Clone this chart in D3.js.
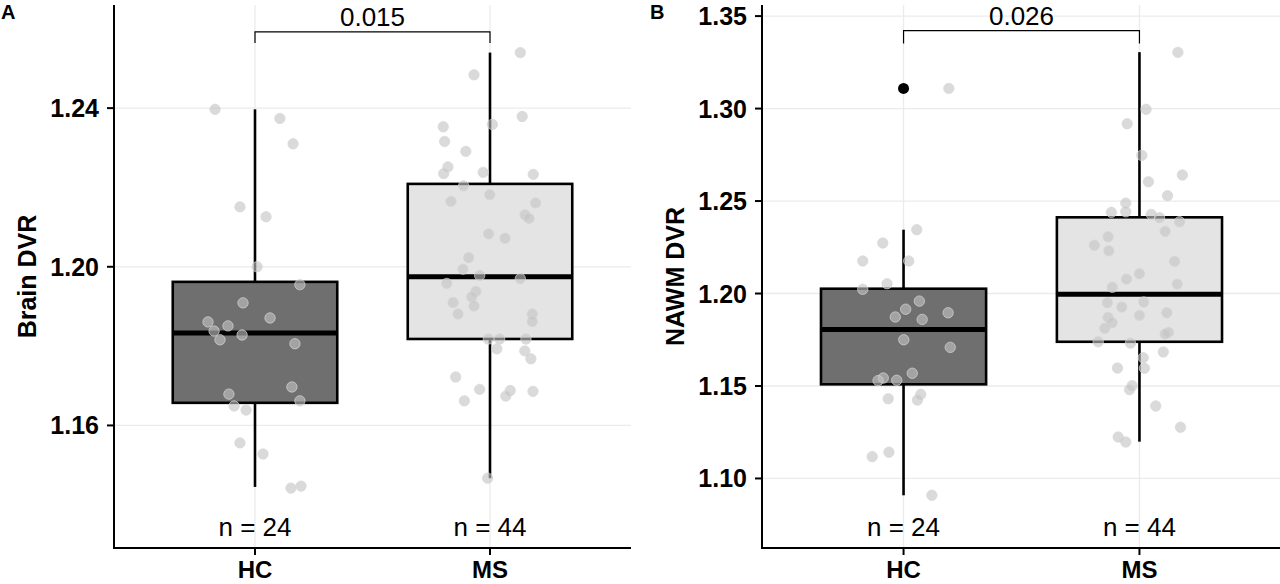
<!DOCTYPE html>
<html>
<head>
<meta charset="utf-8">
<script src="https://cdn.jsdelivr.net/npm/d3@7"></script>
<style>
  body { margin: 0; background: #fff; }
  svg { display: block; font-family: "Liberation Sans", Arial, sans-serif; }
</style>
</head>
<body>
<svg width="1280" height="584"></svg>
<script>
// groups and counts
var groups = ["HC", "MS"];
var counts = [24, 44];

// panel A: Brain DVR
var brainHC = [1.2397, 1.2374, 1.2310, 1.2151, 1.2126, 1.2000, 1.1955, 1.1909, 1.1871, 1.1861, 1.1851, 1.1838,
  1.1828, 1.1816, 1.1806, 1.1697, 1.1679, 1.1662, 1.1649, 1.1639, 1.1556, 1.1528, 1.1447, 1.1442];
var brainHCJitter = [-0.170, 0.106, 0.162, -0.064, 0.047, 0.009, 0.191, -0.051, 0.064, -0.200, -0.115, -0.174,
  -0.055, -0.149, 0.170, 0.157, -0.111, 0.191, -0.089, -0.038, -0.064, 0.034, 0.196, 0.153];
var brainMS = [1.2540, 1.2484, 1.2379, 1.2359, 1.2353, 1.2316, 1.2291, 1.2252, 1.2238, 1.2235, 1.2233, 1.2204,
  1.2182, 1.2165, 1.2161, 1.2131, 1.2122, 1.2083, 1.2072, 1.2023, 1.1994, 1.1978, 1.1970, 1.1958,
  1.1938, 1.1924, 1.1910, 1.1901, 1.1881, 1.1881, 1.1862, 1.1818, 1.1818, 1.1818, 1.1793, 1.1788,
  1.1768, 1.1722, 1.1691, 1.1688, 1.1686, 1.1674, 1.1662, 1.1467];
var brainMSJitter = [0.129, -0.068, 0.137, 0.010, -0.199, -0.193, -0.103, -0.179, -0.029, -0.197, 0.184, -0.112,
  -0.001, -0.166, 0.194, 0.149, 0.166, -0.006, 0.064, -0.091, -0.115, -0.044, 0.129, -0.184,
  -0.060, -0.078, -0.157, -0.068, -0.136, 0.180, 0.180, -0.007, 0.041, 0.153, 0.029, 0.148,
  0.174, -0.146, -0.044, 0.086, 0.183, 0.067, -0.109, -0.010];
// [lower whisker, q1, median, q3, upper whisker]
var brainBoxHC = [1.1445, 1.1657, 1.1833, 1.1962, 1.2397];
var brainBoxMS = [1.1467, 1.1818, 1.1975, 1.2209, 1.2540];
var brainTicks = [1.16, 1.20, 1.24];
var brainP = "0.015";

// panel B: NAWM DVR
var nawmHC = [1.3109, 1.2345, 1.2273, 1.2176, 1.2176, 1.2053, 1.2023, 1.1959, 1.1915, 1.1896, 1.1873, 1.1860,
  1.1750, 1.1709, 1.1569, 1.1543, 1.1531, 1.1529, 1.1455, 1.1431, 1.1424, 1.1142, 1.1118, 1.0909];
var nawmHCJitter = [0.192, 0.056, -0.088, -0.173, 0.022, -0.070, -0.173, 0.067, 0.009, 0.189, -0.035, 0.079,
  0.001, 0.198, 0.037, -0.086, -0.029, -0.108, 0.073, -0.065, 0.059, -0.062, -0.133, 0.120];
var nawmMS = [1.3304, 1.2996, 1.2918, 1.2747, 1.2641, 1.2604, 1.2529, 1.2489, 1.2442, 1.2439, 1.2428, 1.2410,
  1.2388, 1.2336, 1.2307, 1.2261, 1.2231, 1.2174, 1.2107, 1.2078, 1.2051, 1.2034, 1.1954, 1.1950,
  1.1927, 1.1896, 1.1882, 1.1871, 1.1842, 1.1812, 1.1790, 1.1781, 1.1739, 1.1732, 1.1684, 1.1653,
  1.1597, 1.1596, 1.1502, 1.1480, 1.1392, 1.1277, 1.1224, 1.1197];
var nawmMSJitter = [0.163, 0.028, -0.052, 0.010, 0.182, 0.038, 0.119, -0.058, -0.058, -0.119, 0.050, 0.085,
  0.170, 0.109, -0.133, -0.191, -0.130, 0.149, 0.000, -0.055, 0.160, -0.115, 0.018, -0.136,
  -0.075, 0.116, 0.000, -0.133, -0.116, -0.147, 0.123, 0.109, -0.175, -0.038, 0.101, 0.016,
  -0.093, 0.021, -0.031, -0.042, 0.069, 0.174, -0.090, -0.058];
var nawmBoxHC = [1.0909, 1.1509, 1.1806, 1.2026, 1.2345];
var nawmBoxMS = [1.1199, 1.1739, 1.1996, 1.2412, 1.3305];
var nawmOutliers = [1.3109]; // HC
var nawmTicks = [1.10, 1.15, 1.20, 1.25, 1.30, 1.35];
var nawmP = "0.026";

var svg = d3.select("svg");
var boxFill = ["#6f6f6f", "#e4e4e4"];

function drawPanel(o) {
  var g = svg.append("g");
  var top = 5, bottom = 548;

  var x = d3.scaleLinear().domain([0.4, 2.6]).range([o.left, o.right]);
  var y = d3.scaleLinear().domain(o.yDomain).range([bottom, top]);

  // grid
  g.append("g").selectAll("line").data(o.ticks).enter().append("line")
    .attr("x1", o.left).attr("x2", o.right)
    .attr("y1", function(d) { return y(d); }).attr("y2", function(d) { return y(d); })
    .attr("stroke", "#ebebeb").attr("stroke-width", 1.3);
  g.append("g").selectAll("line").data([1, 2]).enter().append("line")
    .attr("x1", function(d) { return x(d); }).attr("x2", function(d) { return x(d); })
    .attr("y1", top).attr("y2", bottom)
    .attr("stroke", "#ebebeb").attr("stroke-width", 1.3);

  // boxes
  o.boxes.forEach(function(b, i) {
    var c = i + 1, w = 0.35;
    g.append("line")
      .attr("x1", x(c)).attr("x2", x(c)).attr("y1", y(b[3])).attr("y2", y(b[4]))
      .attr("stroke", "#000").attr("stroke-width", 2.6);
    g.append("line")
      .attr("x1", x(c)).attr("x2", x(c)).attr("y1", y(b[1])).attr("y2", y(b[0]))
      .attr("stroke", "#000").attr("stroke-width", 2.6);
    g.append("rect")
      .attr("x", x(c - w)).attr("width", x(c + w) - x(c - w))
      .attr("y", y(b[3])).attr("height", y(b[1]) - y(b[3]))
      .attr("fill", boxFill[i]).attr("stroke", "#000").attr("stroke-width", 2.6);
    g.append("line")
      .attr("x1", x(c - w)).attr("x2", x(c + w)).attr("y1", y(b[2])).attr("y2", y(b[2]))
      .attr("stroke", "#000").attr("stroke-width", 5);
  });

  // outliers
  g.append("g").selectAll("circle").data(o.outliers).enter().append("circle")
    .attr("cx", x(1)).attr("cy", function(d) { return y(d); })
    .attr("r", 5.5).attr("fill", "#000");

  // jittered points
  o.points.forEach(function(p, i) {
    g.append("g").selectAll("circle").data(p.values).enter().append("circle")
      .attr("cx", function(d, j) { return x(i + 1 + p.jitter[j]); })
      .attr("cy", function(d) { return y(d); })
      .attr("r", 5.2)
      .attr("fill", "#c4c4c4").attr("fill-opacity", 0.62)
      .attr("stroke", "#d6d6d6").attr("stroke-opacity", 0.7).attr("stroke-width", 1);
  });

  // significance bracket
  g.append("path")
    .attr("d", "M" + x(1) + "," + y(o.bracket[1]) + "V" + y(o.bracket[0]) +
      "H" + x(2) + "V" + y(o.bracket[1]))
    .attr("fill", "none").attr("stroke", "#000").attr("stroke-width", 1.2);
  g.append("text")
    .attr("x", x(1.5)).attr("y", y(o.bracket[0]) - 6)
    .attr("text-anchor", "middle").attr("font-size", 26)
    .text(o.p);

  // n labels
  g.append("g").selectAll("text").data(counts).enter().append("text")
    .attr("x", function(d, i) { return x(i + 1); }).attr("y", 536)
    .attr("text-anchor", "middle").attr("font-size", 26)
    .text(function(d) { return "n = " + d; });

  // axes
  g.append("line").attr("x1", o.left).attr("x2", o.left).attr("y1", top).attr("y2", bottom + 1)
    .attr("stroke", "#000").attr("stroke-width", 2);
  g.append("line").attr("x1", o.left - 1).attr("x2", o.right).attr("y1", bottom).attr("y2", bottom)
    .attr("stroke", "#000").attr("stroke-width", 2);

  var yt = g.append("g").selectAll("g").data(o.ticks).enter().append("g")
    .attr("transform", function(d) { return "translate(" + o.left + "," + y(d) + ")"; });
  yt.append("line").attr("x1", -7).attr("x2", 0).attr("stroke", "#000").attr("stroke-width", 2);
  yt.append("text").attr("x", -15).attr("dy", "0.36em")
    .attr("text-anchor", "end").attr("font-size", 25).attr("font-weight", "bold")
    .text(function(d) { return d3.format(".2f")(d); });

  var xt = g.append("g").selectAll("g").data(groups).enter().append("g")
    .attr("transform", function(d, i) { return "translate(" + x(i + 1) + "," + bottom + ")"; });
  xt.append("line").attr("y1", 0).attr("y2", 7).attr("stroke", "#000").attr("stroke-width", 2);
  xt.append("text").attr("y", 30)
    .attr("text-anchor", "middle").attr("font-size", 24).attr("font-weight", "bold")
    .text(function(d) { return d; });

  g.append("text")
    .attr("transform", "translate(" + o.titleX + "," + ((top + bottom) / 2) + ") rotate(-90)")
    .attr("text-anchor", "middle").attr("font-size", 25).attr("font-weight", "bold")
    .text(o.title);

  g.append("text")
    .attr("x", o.tagX).attr("y", 19)
    .attr("font-size", 20).attr("font-weight", "bold")
    .text(o.tag);
}

drawPanel({
  tag: "A", tagX: 1, title: "Brain DVR", titleX: 36,
  left: 114, right: 631, yDomain: [1.1291, 1.2660], ticks: brainTicks,
  boxes: [brainBoxHC, brainBoxMS], outliers: [],
  points: [{values: brainHC, jitter: brainHCJitter}, {values: brainMS, jitter: brainMSJitter}],
  bracket: [1.2592, 1.2564], p: brainP
});

drawPanel({
  tag: "B", tagX: 650, title: "NAWM DVR", titleX: 684,
  left: 762, right: 1281, yDomain: [1.0624, 1.3560], ticks: nawmTicks,
  boxes: [nawmBoxHC, nawmBoxMS], outliers: nawmOutliers,
  points: [{values: nawmHC, jitter: nawmHCJitter}, {values: nawmMS, jitter: nawmMSJitter}],
  bracket: [1.3421, 1.3352], p: nawmP
});
</script>
</body>
</html>
